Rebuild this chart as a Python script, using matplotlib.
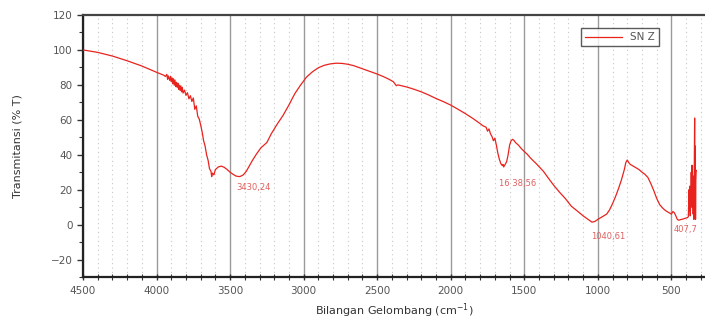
import matplotlib
matplotlib.use("Agg")
import matplotlib.pyplot as plt
from matplotlib.ticker import MultipleLocator

wavenumber = [
    4500, 4400, 4300, 4200, 4100, 4000, 3950,
    3940, 3930, 3925, 3920, 3910, 3905, 3900, 3895, 3890, 3885, 3880, 3875,
    3870, 3865, 3860, 3855, 3850, 3845, 3840, 3835, 3830, 3825, 3820, 3810,
    3800, 3790, 3780, 3770, 3760, 3750, 3740, 3730, 3720, 3710, 3700, 3690,
    3680, 3670, 3660, 3650, 3640, 3630, 3625, 3620, 3610, 3600, 3580, 3560,
    3540, 3520, 3500, 3480, 3460, 3440, 3430, 3410, 3390, 3370, 3350, 3320,
    3290, 3250, 3220, 3180, 3140, 3100, 3060, 3020, 2980, 2940, 2900, 2860,
    2820, 2780, 2740, 2700, 2660, 2620, 2580, 2540, 2500, 2460, 2420, 2390,
    2370, 2360, 2340, 2300, 2250, 2200, 2150, 2100, 2050, 2000, 1950, 1900,
    1850, 1800, 1780, 1760, 1750, 1740, 1730, 1720, 1710, 1700, 1690, 1680,
    1670, 1660, 1650, 1645, 1640, 1630, 1620, 1610, 1600, 1590, 1580, 1570,
    1560, 1540, 1520, 1500, 1480, 1460, 1440, 1420, 1400, 1370, 1340, 1300,
    1260, 1220, 1180, 1140, 1100, 1070, 1040, 1020, 1000, 970, 940, 920,
    900, 880, 860, 840, 820, 810, 800, 790, 780, 760, 740, 720, 700, 680,
    660, 640, 620, 600, 580, 560, 540, 520, 500, 490, 480, 470, 460, 450,
    440, 420, 400, 390, 385, 380, 378, 375, 372, 368, 365, 362, 360, 358,
    355, 352, 350, 347, 344, 342, 340, 338, 336, 334, 332, 330,
]
transmittance = [
    100.0, 98.6, 96.5, 93.8, 90.8, 87.2, 85.5,
    84.8, 86.0, 83.2, 85.1, 82.5, 84.9, 81.8, 84.0, 80.6, 83.5, 79.8, 82.8,
    79.0, 81.5, 78.6, 81.0, 77.4, 79.8, 76.8, 79.5, 76.0, 78.6, 75.3, 77.0,
    74.0, 75.5, 72.0, 73.8, 70.5, 72.5, 66.0, 68.0, 62.0, 60.5, 57.0, 53.0,
    48.0, 45.0, 40.0, 37.0, 32.0, 30.5, 27.5, 29.5, 28.5, 31.5, 33.0, 33.5,
    32.8, 31.5, 30.0, 28.8, 27.8, 27.5, 27.6, 28.5, 30.5, 33.5, 36.5, 40.5,
    44.0, 47.0, 52.0, 57.5, 62.5, 68.5, 75.0, 80.0, 84.5, 87.5, 89.8, 91.2,
    92.0, 92.4, 92.3, 91.8, 91.0, 89.8, 88.6, 87.4, 86.2, 84.8, 83.2, 81.8,
    79.5, 80.0, 79.6, 78.8, 77.5, 76.0, 74.2, 72.2, 70.4, 68.4, 66.0, 63.5,
    60.8, 57.8, 56.5, 55.8, 53.5, 54.8, 52.0, 50.5, 48.0, 49.5, 45.5, 41.0,
    37.5, 35.0, 33.8, 34.5, 33.0, 34.5, 36.0, 40.0, 45.5, 48.0, 48.8, 48.2,
    47.0, 45.5, 43.5, 41.8, 40.3, 38.3, 36.6, 35.0, 33.2, 30.5, 27.0, 22.5,
    18.5, 14.8, 10.5, 7.8, 5.0, 3.2, 1.4, 1.8, 3.0, 4.5, 6.0, 8.5,
    12.0, 16.0, 20.5, 25.5, 31.5, 35.5, 37.0, 35.5, 34.5, 33.5, 32.5, 31.5, 30.0, 28.8,
    27.0, 23.5, 19.5, 15.0, 11.5, 9.5, 8.0, 7.0, 6.0, 7.5, 6.8, 5.0, 3.0, 2.5,
    2.8, 3.2, 3.8, 4.0, 4.5, 20.0, 8.0, 22.0, 5.0, 15.0, 30.0, 10.0, 34.0, 12.0,
    28.0, 6.0, 20.0, 3.0, 40.0, 61.0, 10.0, 45.0, 3.0, 25.0, 30.0, 31.0,
]

peak_labels = ["3430,24", "16 38,56", "1040,61", "407,7"]
peak_x = [3455, 1675, 1048, 488]
peak_y = [21.0, 23.5, -7.0, -3.0]

series_name = "SN Z"
x_label = "Bilangan Gelombang (cm$^{-1}$)"
y_label = "Transmitansi (% T)"

fig = plt.figure(figsize=(7.05, 3.2), dpi=100)
ax = fig.add_axes([83 / 705, 1 - 277 / 320, 1 - 83 / 705 + 0.002, (277 - 15) / 320])

ax.plot(wavenumber, transmittance, color="#e8231e", lw=0.9, label=series_name, zorder=3)

ax.set_xlim(4500, 262)
ax.set_ylim(-30, 120)
ax.xaxis.set_major_locator(MultipleLocator(500))
ax.xaxis.set_minor_locator(MultipleLocator(100))
ax.yaxis.set_major_locator(MultipleLocator(20))
ax.yaxis.set_minor_locator(MultipleLocator(10))

ax.grid(which="major", axis="x", color="#9a9a9a", lw=1.0, ls="-")
ax.grid(which="minor", axis="x", color="#c8c8c8", lw=0.8, ls=(0, (1, 3)))
ax.set_axisbelow(True)

for s in ["left", "bottom", "top"]:
    ax.spines[s].set_linewidth(1.6)
    ax.spines[s].set_color("#222222")
ax.spines["top"].set_color("#444444")
ax.spines["right"].set_visible(False)

ax.tick_params(axis="both", which="major", labelsize=7.5, labelcolor="#555555",
               length=4, width=1.0, color="#333333")
ax.tick_params(axis="x", which="major", direction="inout", length=5, pad=4)
ax.tick_params(axis="x", which="minor", direction="inout", length=4, width=0.8, color="#333333")
ax.tick_params(axis="y", which="minor", direction="out", length=3, width=0.8, color="#333333")

ax.set_xlabel(x_label, fontsize=8, color="#333333", labelpad=4)
ax.set_ylabel(y_label, fontsize=8, color="#333333", labelpad=20)

for t, xx, yy in zip(peak_labels, peak_x, peak_y):
    ax.text(xx, yy, t, fontsize=6, color="#e06060", ha="left", va="center")

leg = ax.legend(loc="upper right", bbox_to_anchor=(0.9325, 0.97), fontsize=7.5,
                frameon=True, fancybox=False, handlelength=3.5, borderpad=0.4,
                handletextpad=0.8)
leg.get_frame().set_edgecolor("#333333")
leg.get_frame().set_linewidth(1.0)
for txt in leg.get_texts():
    txt.set_color("#555555")

fig.savefig("out.png", dpi=100)
